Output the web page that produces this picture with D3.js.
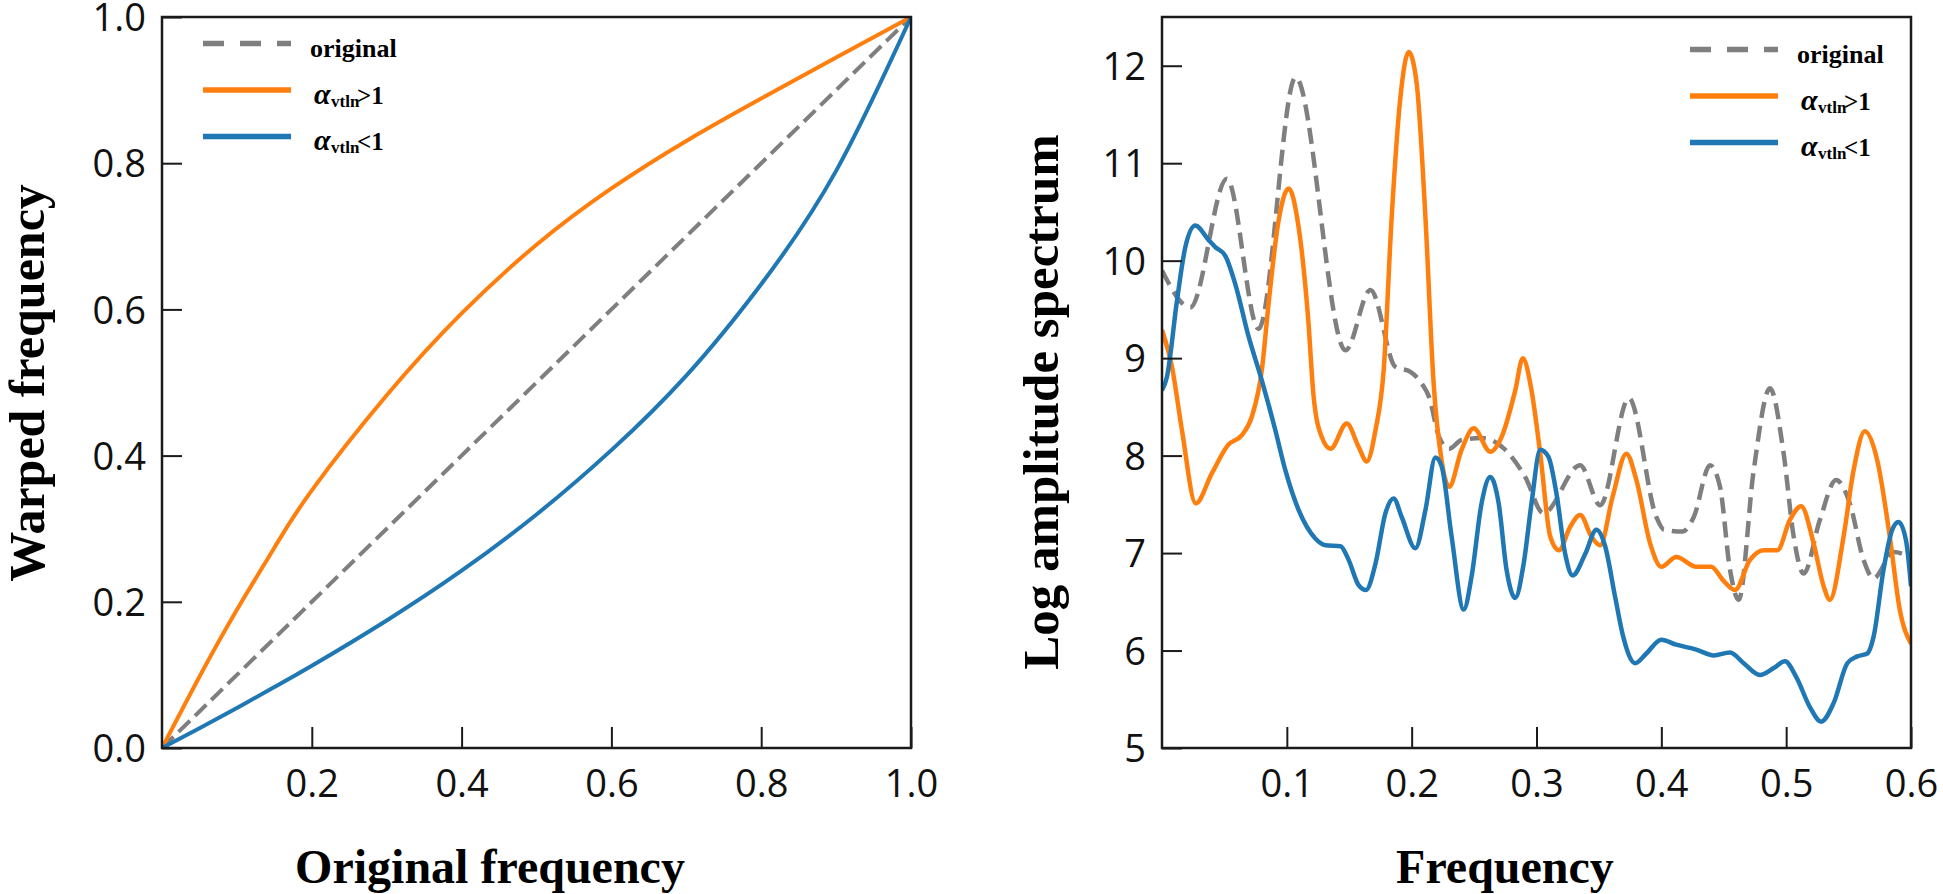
<!DOCTYPE html>
<html>
<head>
<meta charset="utf-8">
<script src="https://cdn.jsdelivr.net/npm/d3@7"></script>
<style>
  html, body { margin: 0; padding: 0; background: #ffffff; }
  svg { display: block; }
</style>
</head>
<body>
<svg id="chart" width="1943" height="894"></svg>
<script>
// ---------------- DATA ----------------
// Left panel: frequency warping functions
const warpFreq     = [0, 0.05, 0.1, 0.15, 0.2, 0.3, 0.4, 0.5, 0.6, 0.7, 0.8, 0.9, 1.0];
const warpOriginal = [0, 0.05, 0.1, 0.15, 0.2, 0.3, 0.4, 0.5, 0.6, 0.7, 0.8, 0.9, 1.0];
const warpUp       = [0, 0.0975, 0.189, 0.274, 0.3525, 0.4825, 0.5945, 0.6885, 0.7655, 0.8305, 0.8885, 0.9445, 1.0];
const warpDown     = [0, 0.027, 0.0548, 0.0833, 0.1125, 0.1745, 0.2425, 0.3195, 0.4075, 0.5095, 0.6345, 0.7895, 1.0];
const warpXTicks = [0.2, 0.4, 0.6, 0.8, 1.0];
const warpYTicks = [0.0, 0.2, 0.4, 0.6, 0.8, 1.0];

// Right panel: log amplitude spectra
const origFreq = [0, 0.0227, 0.052, 0.0774, 0.107, 0.147, 0.167, 0.187, 0.199, 0.208, 0.214, 0.222, 0.23, 0.24, 0.256, 0.275, 0.291, 0.3055, 0.335, 0.351, 0.374, 0.396, 0.402, 0.417, 0.426, 0.439, 0.447, 0.455, 0.462, 0.474, 0.487, 0.498, 0.506, 0.514, 0.527, 0.540, 0.551, 0.562, 0.570, 0.586, 0.6];
const origAmp  = [9.9, 9.52, 10.84, 9.30, 11.88, 9.08, 9.70, 8.91, 8.86, 8.74, 8.6, 8.19, 8.07, 8.16, 8.18, 8.06, 7.78, 7.41, 7.90, 7.49, 8.59, 7.37, 7.24, 7.22, 7.37, 7.90, 7.68, 6.83, 6.52, 7.85, 8.69, 8.02, 7.17, 6.79, 7.34, 7.75, 7.51, 6.93, 6.74, 7.01, 6.96];

const upFreq = [0, 0.008, 0.016, 0.027, 0.040, 0.053, 0.064, 0.072, 0.080, 0.0854, 0.093, 0.1015, 0.109, 0.117, 0.1215, 0.128, 0.135, 0.148, 0.1575, 0.164, 0.171, 0.1776, 0.184, 0.191, 0.1976, 0.204, 0.211, 0.2176, 0.224, 0.230, 0.240, 0.2497, 0.263, 0.272, 0.283, 0.289, 0.296, 0.303, 0.311, 0.318, 0.327, 0.335, 0.344, 0.351, 0.361, 0.372, 0.380, 0.391, 0.400, 0.412, 0.428, 0.440, 0.4495, 0.459, 0.471, 0.482, 0.493, 0.503, 0.512, 0.522, 0.530, 0.535, 0.546, 0.554, 0.563, 0.573, 0.583, 0.591, 0.6];
const upAmp  = [9.29, 8.91, 8.26, 7.51, 7.82, 8.11, 8.21, 8.40, 8.88, 9.56, 10.38, 10.74, 10.38, 9.42, 8.6, 8.19, 8.07, 8.33, 8.09, 7.94, 8.26, 8.88, 10.45, 11.68, 12.14, 11.82, 10.45, 8.74, 7.95, 7.68, 8.06, 8.28, 8.04, 8.19, 8.67, 9.0, 8.67, 8.02, 7.17, 7.03, 7.27, 7.39, 7.17, 7.08, 7.58, 8.02, 7.75, 7.10, 6.86, 6.96, 6.86, 6.86, 6.72, 6.62, 6.93, 7.03, 7.03, 7.34, 7.48, 7.10, 6.66, 6.52, 7.17, 7.85, 8.25, 7.95, 7.17, 6.42, 6.07];

const downFreq = [0, 0.004, 0.012, 0.0187, 0.0267, 0.0374, 0.0427, 0.0507, 0.0587, 0.0694, 0.080, 0.0908, 0.0988, 0.1095, 0.1228, 0.131, 0.143, 0.1495, 0.1575, 0.1634, 0.171, 0.179, 0.1856, 0.192, 0.203, 0.211, 0.219, 0.224, 0.232, 0.2417, 0.248, 0.256, 0.263, 0.2697, 0.276, 0.283, 0.2897, 0.296, 0.303, 0.3095, 0.316, 0.323, 0.329, 0.339, 0.348, 0.355, 0.363, 0.3695, 0.379, 0.388, 0.400, 0.412, 0.428, 0.442, 0.455, 0.466, 0.479, 0.490, 0.499, 0.508, 0.519, 0.528, 0.538, 0.549, 0.557, 0.565, 0.570, 0.578, 0.585, 0.590, 0.596, 0.6];
const downAmp  = [8.67, 8.81, 9.59, 10.14, 10.36, 10.21, 10.14, 10.05, 9.76, 9.22, 8.77, 8.26, 7.85, 7.44, 7.15, 7.08, 7.07, 6.93, 6.67, 6.62, 6.89, 7.41, 7.56, 7.37, 7.05, 7.44, 7.98, 7.89, 7.17, 6.42, 6.76, 7.51, 7.78, 7.51, 6.83, 6.54, 6.89, 7.51, 8.06, 7.99, 7.61, 6.99, 6.77, 6.99, 7.24, 7.07, 6.55, 6.14, 5.87, 5.97, 6.11, 6.06, 6.01, 5.95, 5.98, 5.87, 5.75, 5.82, 5.89, 5.73, 5.42, 5.27, 5.46, 5.87, 5.94, 5.97, 6.14, 6.83, 7.24, 7.32, 7.13, 6.66];
const specXTicks = [0.1, 0.2, 0.3, 0.4, 0.5, 0.6];
const specYTicks = [5, 6, 7, 8, 9, 10, 11, 12];

const legendLabels = ["original", ">1", "<1"];
const seriesColors = { original: "#7f7f7f", up: "#ff7f0e", down: "#1f77b4" };

// ---------------- DRAWING ----------------
const svg = d3.select("#chart");
svg.append("rect").attr("width", 1943).attr("height", 894).attr("fill", "#fff");

const zip = (xs, ys) => xs.map((x, i) => ({ x: x, y: ys[i] }));

function panel(opt) {
  const x = d3.scaleLinear().domain(opt.xDomain).range([opt.left, opt.right]);
  const y = d3.scaleLinear().domain(opt.yDomain).range([opt.bottom, opt.top]);
  const g = svg.append("g");

  const clipId = "clip" + opt.id;
  svg.append("clipPath").attr("id", clipId)
    .append("rect").attr("x", opt.left).attr("y", opt.top)
    .attr("width", opt.right - opt.left).attr("height", opt.bottom - opt.top);

  const line = d3.line().x(d => x(d.x)).y(d => y(d.y)).curve(opt.curve);
  const lg = g.append("g").attr("clip-path", `url(#${clipId})`);
  opt.series.forEach(s => {
    lg.append("path").datum(s.data)
      .attr("fill", "none")
      .attr("stroke", s.color)
      .attr("stroke-width", opt.lineWidth)
      .attr("stroke-dasharray", s.dash || null)
      .attr("stroke-linejoin", "round")
      .attr("d", line);
  });

  // axes (inward ticks)
  const ax = g.append("g").attr("transform", `translate(0,${opt.bottom})`)
    .call(d3.axisBottom(x).tickValues(opt.xTicks).tickFormat(opt.xFormat).tickSize(-21).tickPadding(22));
  const ay = g.append("g").attr("transform", `translate(${opt.left},0)`)
    .call(d3.axisLeft(y).tickValues(opt.yTicks).tickFormat(opt.yFormat).tickSize(-20).tickPadding(16));
  [ax, ay].forEach(a => {
    a.select(".domain").remove();
    a.selectAll(".tick line").attr("stroke", "#1a1a1a").attr("stroke-width", 2);
    a.selectAll(".tick text")
      .attr("fill", "#111")
      .style("font-family", "'Open Sans', sans-serif")
      .style("font-size", "38px");
  });
  ay.selectAll(".tick text").attr("dy", "0.36em");

  // frame
  g.append("rect")
    .attr("x", opt.left).attr("y", opt.top)
    .attr("width", opt.right - opt.left).attr("height", opt.bottom - opt.top)
    .attr("fill", "none").attr("stroke", "#1a1a1a").attr("stroke-width", 2.5);

  // axis titles
  g.append("text")
    .attr("x", opt.xTitleX).attr("y", 883)
    .attr("text-anchor", "middle")
    .style("font-family", "'Liberation Serif', 'Times New Roman', serif")
    .style("font-weight", "bold").style("font-size", "48px")
    .attr("fill", "#000")
    .text(opt.xTitle);
  g.append("text")
    .attr("transform", `translate(${opt.yTitleX},${opt.yTitleY}) rotate(-90)`)
    .attr("text-anchor", "middle")
    .style("font-family", "'Liberation Serif', 'Times New Roman', serif")
    .style("font-weight", "bold").style("font-size", opt.yTitleSize + "px")
    .attr("fill", "#000")
    .text(opt.yTitle);

  // legend
  const L = opt.legend;
  const rows = [
    { color: seriesColors.original, dash: "21,16", lab: legendLabels[0], alpha: false },
    { color: seriesColors.up, dash: null, lab: legendLabels[1], alpha: true },
    { color: seriesColors.down, dash: null, lab: legendLabels[2], alpha: true }
  ];
  rows.forEach((r, i) => {
    const ly = L.y + i * 46.5;
    g.append("line")
      .attr("x1", L.x).attr("x2", L.x + 88)
      .attr("y1", ly).attr("y2", ly)
      .attr("stroke", r.color).attr("stroke-width", 5.5)
      .attr("stroke-dasharray", r.dash);
    const t = g.append("text")
      .attr("y", ly + 13.5)
      .attr("fill", "#000")
      .style("font-family", "'Liberation Serif', 'Times New Roman', serif")
      .style("font-weight", "bold");
    if (!r.alpha) {
      t.attr("x", L.x + 107).style("font-size", "26px").text(r.lab);
    } else {
      t.append("tspan").attr("x", L.x + 111).style("font-size", "30px").style("font-style", "italic").text("α");
      t.append("tspan").attr("x", L.x + 128).attr("dy", 3).style("font-size", "17px").text("vtln");
      t.append("tspan").attr("x", L.x + 154).attr("dy", -3).style("font-size", "25px").text(r.lab);
    }
  });
}

panel({
  id: "L",
  left: 162, right: 911, top: 17, bottom: 748,
  xDomain: [0, 1], yDomain: [0, 1],
  xTicks: warpXTicks, yTicks: warpYTicks,
  xFormat: d3.format(".1f"), yFormat: d3.format(".1f"),
  lineWidth: 4,
  curve: d3.curveNatural,
  series: [
    { data: zip(warpFreq, warpOriginal), color: seriesColors.original, dash: "16,7" },
    { data: zip(warpFreq, warpUp), color: seriesColors.up },
    { data: zip(warpFreq, warpDown), color: seriesColors.down }
  ],
  xTitle: "Original frequency", xTitleX: 490,
  yTitle: "Warped frequency", yTitleX: 44, yTitleY: 383, yTitleSize: 50,
  legend: { x: 203, y: 43.5 }
});

panel({
  id: "R",
  left: 1162, right: 1911, top: 17, bottom: 748,
  xDomain: [0, 0.6], yDomain: [5, 12.5],
  xTicks: specXTicks, yTicks: specYTicks,
  xFormat: d3.format(".1f"), yFormat: d3.format("d"),
  lineWidth: 4.5,
  curve: d3.curveMonotoneX,
  series: [
    { data: zip(origFreq, origAmp), color: seriesColors.original, dash: "16,8" },
    { data: zip(upFreq, upAmp), color: seriesColors.up },
    { data: zip(downFreq, downAmp), color: seriesColors.down }
  ],
  xTitle: "Frequency", xTitleX: 1505,
  yTitle: "Log amplitude spectrum", yTitleX: 1058, yTitleY: 402, yTitleSize: 51,
  legend: { x: 1690, y: 49.5 }
});
</script>
</body>
</html>
